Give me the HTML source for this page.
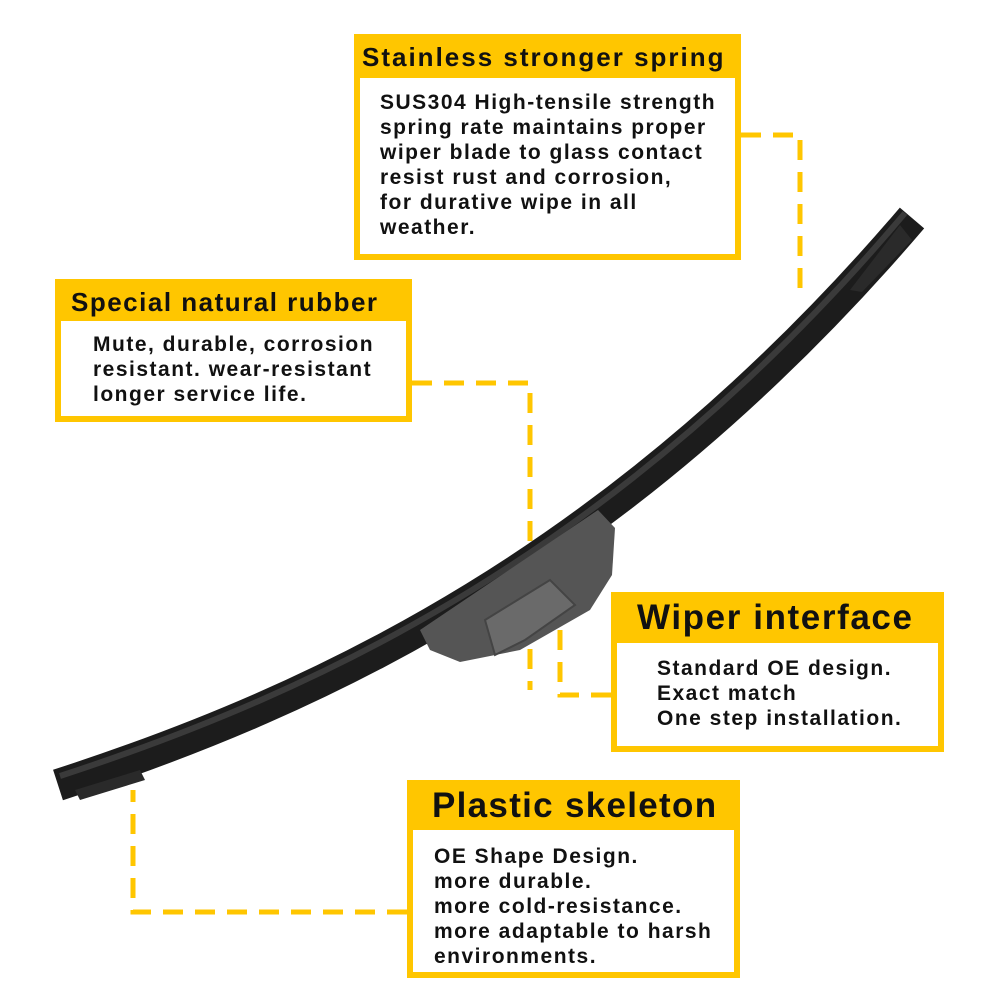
<!DOCTYPE html>
<html><head><meta charset="utf-8"><style>
body{margin:0;width:1000px;height:1000px;background:#fff;position:relative;overflow:hidden;font-family:"Liberation Sans",sans-serif;font-weight:bold}
.box{position:absolute;background:#fff;border:6px solid #FFC600;border-top:0;box-sizing:border-box}
.hd{background:#FFC600;color:#111;white-space:nowrap}
.tx{position:absolute;color:#111;font-size:21px;line-height:25px;letter-spacing:1.5px;white-space:nowrap}
svg{position:absolute;left:0;top:0}
</style></head><body>
<svg width="1000" height="1000">
<g stroke="#FFC600" stroke-width="5" fill="none" stroke-dasharray="20 12">
<path d="M741,135 H800 V290"/>
<path d="M412,383 H530 V690"/>
<path d="M611,695 H560 V615"/>
<path d="M407,912 H133 V790"/>
</g>
<path d="M58,785 C320,700 620,560 912,218" stroke="#1c1c1c" stroke-width="32" fill="none"/>
<path d="M60,776 C320,691 620,551 905,213" stroke="#3a3a3a" stroke-width="6" fill="none"/>
<path d="M75,790 L140,770 L145,780 L80,800 Z" fill="#2a2a2a"/>
<path d="M850,290 L900,225 L912,240 L862,292 Z" fill="#2a2a2a"/>
<path d="M420,630 L598,510 L615,528 L612,575 L590,610 L520,650 L460,662 L430,650 Z" fill="#555"/>
<path d="M485,620 L550,580 L575,605 L525,640 L495,655 Z" fill="#6a6a6a" stroke="#444" stroke-width="2"/>
</svg>
<div class="box" style="left:354px;top:34px;width:387px;height:226px">
<div class="hd" style="height:44px;font-size:26px;letter-spacing:2px;line-height:46px;padding-left:8px;margin:0 -6px">Stainless stronger spring</div></div>
<div class="tx" style="left:380px;top:90px">SUS304 High-tensile strength<br>spring rate maintains proper<br>wiper blade to glass contact<br>resist rust and corrosion,<br>for durative wipe in all<br>weather.</div>
<div class="box" style="left:55px;top:279px;width:357px;height:143px">
<div class="hd" style="height:42px;font-size:26px;letter-spacing:1.5px;line-height:46px;padding-left:16px;margin:0 -6px">Special natural rubber</div></div>
<div class="tx" style="left:93px;top:332px">Mute, durable, corrosion<br>resistant. wear-resistant<br>longer service life.</div>
<div class="box" style="left:611px;top:592px;width:333px;height:160px">
<div class="hd" style="height:51px;font-size:35px;letter-spacing:1.6px;line-height:52px;padding-left:26px;margin:0 -6px">Wiper interface</div></div>
<div class="tx" style="left:657px;top:656px">Standard OE design.<br>Exact match<br>One step installation.</div>
<div class="box" style="left:407px;top:780px;width:333px;height:198px">
<div class="hd" style="height:50px;font-size:35px;letter-spacing:1.3px;line-height:52px;padding-left:25px;margin:0 -6px">Plastic skeleton</div></div>
<div class="tx" style="left:434px;top:844px">OE Shape Design.<br>more durable.<br>more cold-resistance.<br>more adaptable to harsh<br>environments.</div>
</body></html>
